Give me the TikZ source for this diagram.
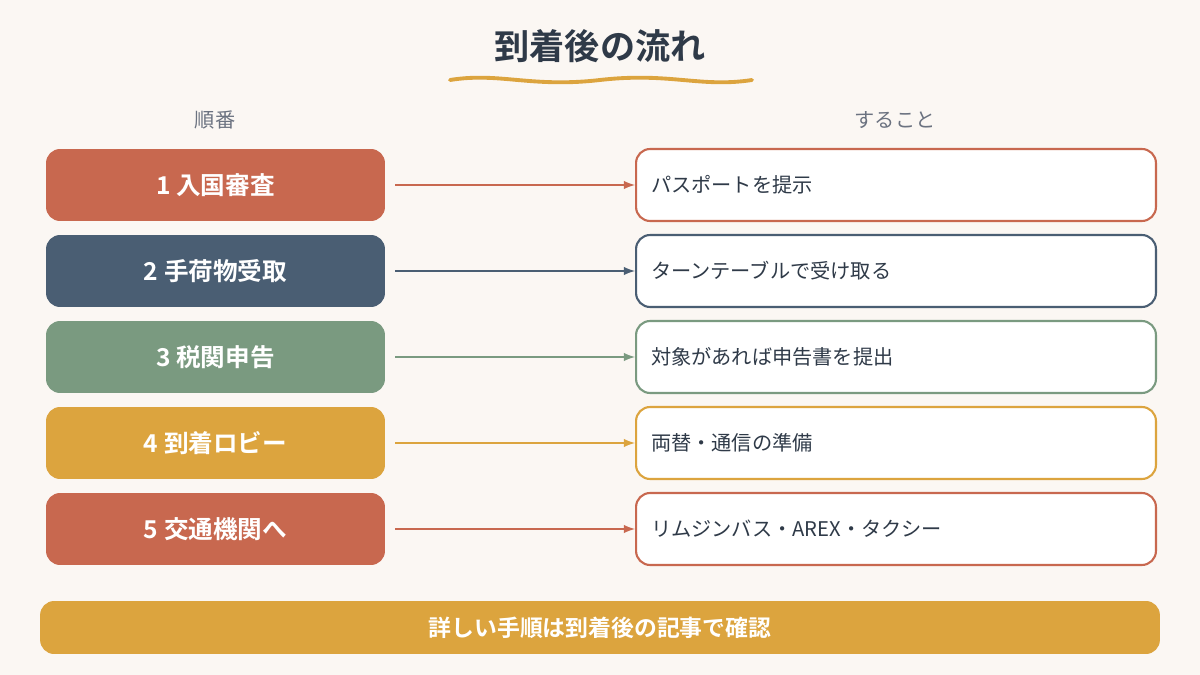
\documentclass[tikz,border=0pt]{standalone}
\usepackage{fontspec}
\setmainfont{Noto Sans CJK JP}
\newfontfamily\jpbold{Noto Sans CJK JP Bold}
\definecolor{bg}{HTML}{FBF7F3}
\definecolor{cred}{HTML}{C8684F}
\definecolor{cblue}{HTML}{4A5E73}
\definecolor{cgreen}{HTML}{7A9A80}
\definecolor{cyel}{HTML}{DCA43E}
\definecolor{cgrey}{HTML}{6B7280}
\definecolor{ink}{HTML}{2F3A48}
\begin{document}
\begin{tikzpicture}[x=0.02cm,y=-0.02cm]
\tikzstyle{stage}=[rounded corners=8pt, minimum width=6.78cm, minimum height=1.44cm, text=white, font=\jpbold\fontsize{14}{16}\selectfont]
\tikzstyle{todo}=[draw, line width=1.2pt, fill=white, rounded corners=8pt, minimum width=10.4cm, minimum height=1.44cm, text=ink, font=\fontsize{11.5}{14}\selectfont, text width=9.8cm, align=left]
\fill [bg] (0,0) rectangle (1200,675);
\node (title) at (600,46) {\jpbold\fontsize{20}{24}\selectfont\color{ink}到着後の流れ};
\draw [cyel, line width=2.2pt, line cap=round] (450,80) .. controls (500,72) and (530,88) .. (600,80) .. controls (670,72) and (700,88) .. (752,80);
\node (hl) at (215,120) {\color{cgrey}\fontsize{11.5}{14}\selectfont 順番};
\node (hr) at (895,120) {\color{cgrey}\fontsize{11.5}{14}\selectfont すること};
\foreach \i/\c/\s/\d in {1/cred/入国審査/パスポートを提示,
  2/cblue/手荷物受取/ターンテーブルで受け取る,
  3/cgreen/税関申告/対象があれば申告書を提出,
  4/cyel/到着ロビー/両替・通信の準備,
  5/cred/交通機関へ/リムジンバス・AREX・タクシー} {
  \node [stage, fill=\c] (s\i) at (215.5,{185+86*(\i-1)}) {\i\ \s};
  \node [todo, draw=\c] (d\i) at (896,{185+86*(\i-1)}) {\d};
  \draw [\c, line width=1.2pt, -latex] (395,{185+86*(\i-1)}) -- (d\i.west);
}
\node [fill=cyel, rounded corners=8pt, minimum width=22.4cm, minimum height=1.06cm, text=white, font=\jpbold\fontsize{13}{16}\selectfont] (note) at (600,627.5) {詳しい手順は到着後の記事で確認};
\end{tikzpicture}
\end{document}
